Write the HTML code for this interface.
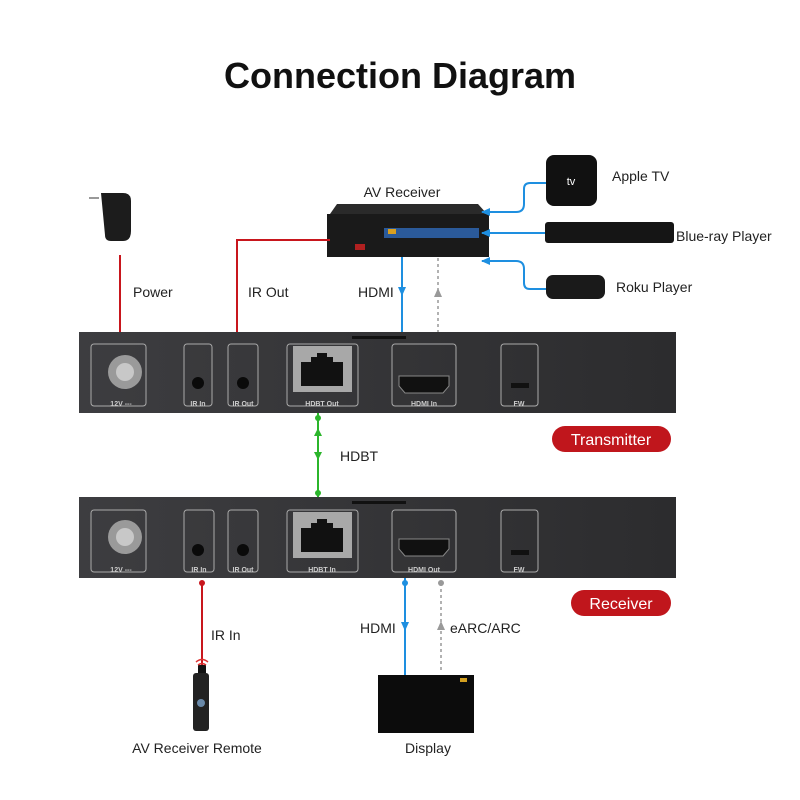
<!DOCTYPE html>
<html><head><meta charset="utf-8"><style>
html,body{margin:0;padding:0;background:#fff}
svg{display:block}
text{font-family:"Liberation Sans",sans-serif}
</style></head><body>
<svg width="800" height="800" viewBox="0 0 800 800" xmlns="http://www.w3.org/2000/svg">
<defs>
<linearGradient id="pg" x1="0" y1="0" x2="1" y2="0"><stop offset="0" stop-color="#3d3d40"/><stop offset="1" stop-color="#2c2c2e"/></linearGradient>
</defs>
<text x="400" y="88" text-anchor="middle" font-size="36" font-weight="bold" fill="#111">Connection Diagram</text>

<!-- power adapter -->
<path d="M101 193 h22 q8 0 8 8 v30 q0 10 -8 10 h-12 q-6 0 -6 -6 z" fill="#1c1c1c"/>
<rect x="89" y="197" width="10" height="2" fill="#999"/>
<!-- AV receiver -->
<path d="M337 204 L478 204 L487 214 L330 214 Z" fill="#2a2a2a"/>
<rect x="327" y="214" width="162" height="43" fill="#1a1a1a"/>
<rect x="384" y="228" width="95" height="10" fill="#2b5a9a"/>
<rect x="388" y="229" width="8" height="5" fill="#d9a020"/>
<rect x="355" y="244" width="10" height="6" fill="#b02020"/>
<!-- apple tv -->
<rect x="546" y="155" width="51" height="51" rx="8" fill="#111"/>
<text x="571" y="185" text-anchor="middle" font-size="11" fill="#fff">tv</text>
<text x="612" y="181" font-size="14" fill="#222">Apple TV</text>
<!-- bluray -->
<rect x="545" y="222" width="129" height="21" rx="3" fill="#151515"/>
<text x="676" y="241" font-size="14" fill="#222">Blue-ray Player</text>
<!-- roku -->
<rect x="546" y="275" width="59" height="24" rx="7" fill="#1a1a1a"/>
<text x="616" y="292" font-size="14" fill="#222">Roku Player</text>
<text x="402" y="197" text-anchor="middle" font-size="14" fill="#222">AV Receiver</text>

<!-- source connectors -->
<g stroke="#1e8fe0" stroke-width="2" fill="none">
<path d="M546 183 H530 q-6 0 -6 6 v15 q0 8 -8 8 H482"/>
<path d="M545 233 H482"/>
<path d="M546 289 H530 q-6 0 -6 -6 v-14 q0 -8 -8 -8 H482"/>
<path d="M402 257 V345"/>
<path d="M405 578 V675"/>
</g>
<g fill="#1e8fe0">
<path d="M481 212 l9 -4 v8z"/><path d="M481 233 l9 -4 v8z"/><path d="M481 261 l9 -4 v8z"/>
<path d="M398 287 h8 l-4 9z"/><path d="M401 622 h8 l-4 9z"/>
<circle cx="402" cy="339" r="3"/><circle cx="405" cy="583" r="3"/>
</g>
<!-- red lines -->
<g stroke="#c8161d" stroke-width="2" fill="none">
<path d="M120 255 V339"/><path d="M330 240 H237 V339"/><path d="M202 583 V667"/>
</g>
<g fill="#c8161d"><circle cx="120" cy="339" r="3"/><circle cx="237" cy="339" r="3"/><circle cx="202" cy="583" r="3"/></g>
<rect x="198" y="665" width="8" height="10" fill="#111"/>
<!-- gray dashed -->
<g stroke="#999" stroke-width="1.5" stroke-dasharray="3,3" fill="none"><path d="M438 258 V339"/><path d="M441 583 V673"/></g>
<g fill="#999"><path d="M438 288 l-4 9 h8z"/><path d="M441 621 l-4 9 h8z"/><circle cx="438" cy="339" r="3"/><circle cx="441" cy="583" r="3"/></g>
<!-- green -->
<path d="M318 413 V497" stroke="#2bb52b" stroke-width="2"/>
<g fill="#2bb52b"><circle cx="318" cy="418" r="3"/><circle cx="318" cy="493" r="3"/><path d="M314 436 l4 -8 l4 8z"/><path d="M314 452 h8 l-4 8z"/></g>

<text x="133" y="297" font-size="14" fill="#222">Power</text>
<text x="248" y="297" font-size="14" fill="#222">IR Out</text>
<text x="358" y="297" font-size="14" fill="#222">HDMI</text>
<text x="340" y="461" font-size="14" fill="#222">HDBT</text>
<text x="211" y="640" font-size="14" fill="#222">IR In</text>
<text x="360" y="633" font-size="14" fill="#222">HDMI</text>
<text x="450" y="633" font-size="14" fill="#222">eARC/ARC</text>
<text x="197" y="753" text-anchor="middle" font-size="14" fill="#222">AV Receiver Remote</text>
<text x="428" y="753" text-anchor="middle" font-size="14" fill="#222">Display</text>

<!-- panels -->
<g id="tx" transform="translate(0,332)">
<rect x="79" y="0" width="597" height="81" fill="url(#pg)"/>
<rect x="352" y="4" width="54" height="3" fill="#111"/>
<g fill="none" stroke="#aaa" stroke-width="1">
<rect x="91" y="12" width="55" height="62" rx="3"/>
<rect x="184" y="12" width="28" height="62" rx="3"/>
<rect x="228" y="12" width="30" height="62" rx="3"/>
<rect x="287" y="12" width="71" height="62" rx="3"/>
<rect x="392" y="12" width="64" height="62" rx="3"/>
<rect x="501" y="12" width="37" height="62" rx="3"/>
</g>
<circle cx="125" cy="40" r="17" fill="#9a9a9a"/><circle cx="125" cy="40" r="9" fill="#c8c8c8"/>
<circle cx="198" cy="51" r="6" fill="#0a0a0a"/><circle cx="243" cy="51" r="6" fill="#0a0a0a"/>
<rect x="293" y="14" width="59" height="46" fill="#a8a8a8"/>
<path d="M301 30 h10 v-5 h6 v-4 h10 v4 h6 v5 h10 v24 h-42z" fill="#111"/>
<path d="M399 44 h50 v10 l-6 7 h-38 l-6 -7z" fill="#111" stroke="#888"/>
<rect x="511" y="51" width="18" height="5" fill="#111"/>
</g>
<g transform="translate(0,497)">
<rect x="79" y="0" width="597" height="81" fill="url(#pg)"/>
<rect x="352" y="4" width="54" height="3" fill="#111"/>
<g fill="none" stroke="#aaa" stroke-width="1">
<rect x="91" y="13" width="55" height="62" rx="3"/>
<rect x="184" y="13" width="30" height="62" rx="3"/>
<rect x="228" y="13" width="30" height="62" rx="3"/>
<rect x="287" y="13" width="71" height="62" rx="3"/>
<rect x="392" y="13" width="64" height="62" rx="3"/>
<rect x="501" y="13" width="37" height="62" rx="3"/>
</g>
<circle cx="125" cy="40" r="17" fill="#9a9a9a"/><circle cx="125" cy="40" r="9" fill="#c8c8c8"/>
<circle cx="198" cy="53" r="6" fill="#0a0a0a"/><circle cx="243" cy="53" r="6" fill="#0a0a0a"/>
<rect x="293" y="15" width="59" height="46" fill="#a8a8a8"/>
<path d="M301 31 h10 v-5 h6 v-4 h10 v4 h6 v5 h10 v24 h-42z" fill="#111"/>
<path d="M399 42 h50 v10 l-6 7 h-38 l-6 -7z" fill="#111" stroke="#888"/>
<rect x="511" y="53" width="18" height="5" fill="#111"/>
</g>
<g font-size="7" font-weight="bold" fill="#ccc" text-anchor="middle">
<text x="121" y="406">12V ---</text><text x="198" y="406">IR In</text><text x="243" y="406">IR Out</text><text x="322" y="406">HDBT Out</text><text x="424" y="406">HDMI In</text><text x="519" y="406">FW</text>
<text x="121" y="572">12V ---</text><text x="199" y="572">IR In</text><text x="243" y="572">IR Out</text><text x="322" y="572">HDBT In</text><text x="424" y="572">HDMI Out</text><text x="519" y="572">FW</text>
</g>

<!-- pills -->
<rect x="552" y="426" width="119" height="26" rx="13" fill="#c0161c"/>
<text x="611" y="445" text-anchor="middle" font-size="16" fill="#fff">Transmitter</text>
<rect x="571" y="590" width="100" height="26" rx="13" fill="#c0161c"/>
<text x="621" y="609" text-anchor="middle" font-size="16" fill="#fff">Receiver</text>

<!-- remote -->
<path d="M196 662 q6 -5 12 0 M198 665 q4 -3 8 0" stroke="#d33" stroke-width="1.5" fill="none"/>
<rect x="193" y="673" width="16" height="58" rx="3" fill="#222"/>
<circle cx="201" cy="703" r="4" fill="#6a8aaa"/>
<!-- display -->
<rect x="378" y="675" width="96" height="58" fill="#0c0c0c"/>
<rect x="460" y="678" width="7" height="4" fill="#d4a020"/>
</svg>
</body></html>
